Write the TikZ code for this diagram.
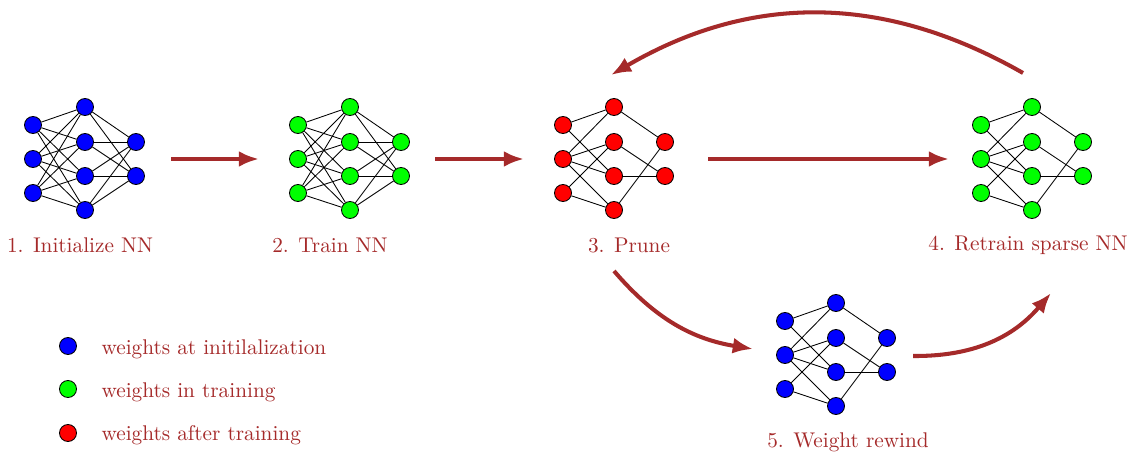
\documentclass[tikz,border=0pt]{standalone}
\usepackage{tikz}
\usepackage{color}
\usetikzlibrary{arrows.meta}

\definecolor{flowred}{RGB}{165,42,42}

\begin{document}
\begin{tikzpicture}[%
      x=0.47pt, y=-0.47pt,
      neuron/.style={circle, draw=black, line width=0.4pt, minimum size=8pt, inner sep=0pt},
      initw/.style={neuron, fill={rgb:red,0;green,0;blue,255}},
      trainw/.style={neuron, fill={rgb:red,0;green,255;blue,0}},
      prunew/.style={neuron, fill={rgb:red,255;green,0;blue,0}},
      steplabel/.style={text=flowred},
      flow/.style={color=flowred, line width=1.9pt, -{Latex[length=9.5pt,width=7.5pt]}},
      ]
      \useasboundingbox (0,0) rectangle (1133,454);

      % 1. initialized network
      \node [initw] (init-i1) at (33,125) {};
      \node [initw] (init-i2) at (33,159) {};
      \node [initw] (init-i3) at (33,193) {};
      \node [initw] (init-h1) at (85,107) {};
      \node [initw] (init-h2) at (85,142) {};
      \node [initw] (init-h3) at (85,176) {};
      \node [initw] (init-h4) at (85,210) {};
      \node [initw] (init-o1) at (136,142) {};
      \node [initw] (init-o2) at (136,176) {};

      % 2. trained network
      \node [trainw] (train-i1) at (298,125) {};
      \node [trainw] (train-i2) at (298,159) {};
      \node [trainw] (train-i3) at (298,193) {};
      \node [trainw] (train-h1) at (350,107) {};
      \node [trainw] (train-h2) at (350,142) {};
      \node [trainw] (train-h3) at (350,176) {};
      \node [trainw] (train-h4) at (350,210) {};
      \node [trainw] (train-o1) at (401,142) {};
      \node [trainw] (train-o2) at (401,176) {};

      \foreach \net in {init,train} {
        \foreach \i in {1,2,3}
          \foreach \h in {1,2,3,4}
            \draw (\net-i\i) -- (\net-h\h);
        \foreach \h in {1,2,3,4}
          \foreach \o in {1,2}
            \draw (\net-h\h) -- (\net-o\o);
      }

      % 3. pruned network
      \node [prunew] (prune-i1) at (563,125) {};
      \node [prunew] (prune-i2) at (563,159) {};
      \node [prunew] (prune-i3) at (563,193) {};
      \node [prunew] (prune-h1) at (614,107) {};
      \node [prunew] (prune-h2) at (614,142) {};
      \node [prunew] (prune-h3) at (614,176) {};
      \node [prunew] (prune-h4) at (614,210) {};
      \node [prunew] (prune-o1) at (665,142) {};
      \node [prunew] (prune-o2) at (665,176) {};

      % 4. retrained sparse network
      \node [trainw] (retrain-i1) at (981,125) {};
      \node [trainw] (retrain-i2) at (981,159) {};
      \node [trainw] (retrain-i3) at (981,193) {};
      \node [trainw] (retrain-h1) at (1032,107) {};
      \node [trainw] (retrain-h2) at (1032,142) {};
      \node [trainw] (retrain-h3) at (1032,176) {};
      \node [trainw] (retrain-h4) at (1032,210) {};
      \node [trainw] (retrain-o1) at (1083,142) {};
      \node [trainw] (retrain-o2) at (1083,176) {};

      % 5. rewound network
      \node [initw] (rewind-i1) at (785,321) {};
      \node [initw] (rewind-i2) at (785,355) {};
      \node [initw] (rewind-i3) at (785,389) {};
      \node [initw] (rewind-h1) at (836,303) {};
      \node [initw] (rewind-h2) at (836,338) {};
      \node [initw] (rewind-h3) at (836,372) {};
      \node [initw] (rewind-h4) at (836,406) {};
      \node [initw] (rewind-o1) at (887,338) {};
      \node [initw] (rewind-o2) at (887,372) {};

      \foreach \net in {prune,retrain,rewind} {
        \foreach \a/\b in {i1/h1,i1/h3,i2/h1,i2/h2,i2/h3,i2/h4,i3/h2,i3/h4,
                           h1/o1,h2/o2,h3/o2,h4/o1}
          \draw (\net-\a) -- (\net-\b);
      }

      % step labels
      \node [steplabel] (lab-init) at (80,245) {1. Initialize NN};
      \node [steplabel] (lab-train) at (330,245) {2. Train NN};
      \node [steplabel] (lab-prune) at (629,245) {3. Prune};
      \node [steplabel] (lab-retrain) at (1028,245) {4. Retrain sparse NN};
      \node [steplabel] (lab-rewind) at (848,442) {5. Weight rewind};

      % arrows
      \coordinate (f1s) at (171,159);
      \coordinate (f1e) at (259,159);
      \coordinate (f2s) at (435,159);
      \coordinate (f2e) at (524,159);
      \coordinate (f3s) at (708,159);
      \coordinate (f3e) at (949,159);
      \coordinate (f4s) at (1023,73);
      \coordinate (f4e) at (611,75);
      \coordinate (f5s) at (614,271);
      \coordinate (f5e) at (753,349);
      \coordinate (f6s) at (913,356);
      \coordinate (f6e) at (1051,293);

      \draw [flow] (f1s) -- (f1e);
      \draw [flow] (f2s) -- (f2e);
      \draw [flow] (f3s) -- (f3e);
      \draw [flow] (f4s) to[bend right=30] (f4e);
      \draw [flow] (f5s) to[bend right=20] (f5e);
      \draw [flow] (f6s) to[bend right=25] (f6e);

      % legend
      \node [initw] (key-init) at (68,346) {};
      \node [trainw] (key-train) at (68,389) {};
      \node [prunew] (key-prune) at (68,433) {};
      \node [steplabel, anchor=west] at (94,349) {weights at initilalization};
      \node [steplabel, anchor=west] at (94,392) {weights in training};
      \node [steplabel, anchor=west] at (94,435) {weights after training};
      \end{tikzpicture}
\end{document}
